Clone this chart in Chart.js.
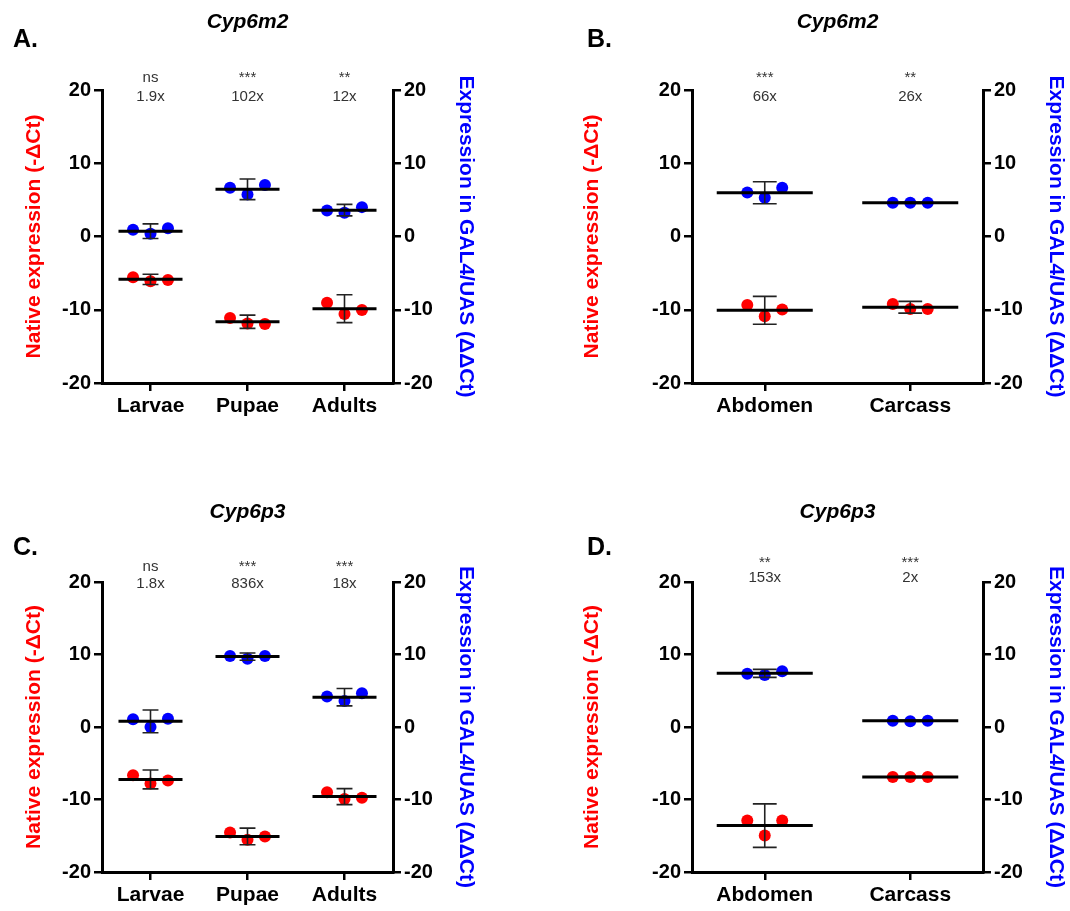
<!DOCTYPE html>
<html><head><meta charset="utf-8">
<script src="https://cdn.jsdelivr.net/npm/chart.js@4.4.0/dist/chart.umd.min.js"></script>
<style>
html,body{margin:0;padding:0;background:#fff;}
#wrap{position:relative;width:1070px;height:911px;overflow:hidden;}
canvas{position:absolute;}
</style></head><body>
<div id="wrap">
<canvas id="cA" width="535" height="455" style="left:0;top:0"></canvas>
<canvas id="cB" width="535" height="455" style="left:535px;top:0"></canvas>
<canvas id="cC" width="535" height="456" style="left:0;top:455px"></canvas>
<canvas id="cD" width="535" height="456" style="left:535px;top:455px"></canvas>
</div>
<script>
// ---------- categories ----------
const stageCategories = ['Larvae', 'Pupae', 'Adults'];
const tissueCategories = ['Abdomen', 'Carcass'];

// ---------- Panel A: Cyp6m2, life stages ----------
const aNative = [[-5.57, -6.12, -5.93], [-11.14, -11.88, -11.96], [-9.04, -10.59, -10.04]];
const aNativeMean = [-5.85, -11.64, -9.86];
const aNativeSd = [0.7, 0.9, 1.9];
const aGal4 = [[0.92, 0.37, 1.14], [6.67, 5.75, 7.03], [3.56, 3.25, 4.01]];
const aGal4Mean = [0.73, 6.44, 3.6];
const aGal4Sd = [1.0, 1.4, 0.78];
const aSig = ['ns', '***', '**'];
const aFold = ['1.9x', '102x', '12x'];

// ---------- Panel B: Cyp6m2, tissues ----------
const bNative = [[-9.35, -10.9, -9.97], [-9.2, -9.9, -9.9]];
const bNativeMean = [-10.07, -9.66];
const bNativeSd = [1.9, 0.8];
const bGal4 = [[6.0, 5.3, 6.64], [4.6, 4.6, 4.6]];
const bGal4Mean = [5.98, 4.6];
const bGal4Sd = [1.5, 0.1];
const bSig = ['***', '**'];
const bFold = ['66x', '26x'];

// ---------- Panel C: Cyp6p3, life stages ----------
const cNative = [[-6.64, -7.78, -7.37], [-14.56, -15.56, -15.1], [-9.0, -9.93, -9.75]];
const cNativeMean = [-7.23, -15.1, -9.6];
const cNativeSd = [1.3, 1.15, 1.1];
const cGal4 = [[1.06, 0.0, 1.15], [9.8, 9.4, 9.8], [4.2, 3.57, 4.67]];
const cGal4Mean = [0.78, 9.71, 4.12];
const cGal4Sd = [1.57, 0.5, 1.2];
const cSig = ['ns', '***', '***'];
const cFold = ['1.8x', '836x', '18x'];

// ---------- Panel D: Cyp6p3, tissues ----------
const dNative = [[-12.9, -14.96, -12.9], [-6.9, -6.9, -6.9]];
const dNativeMean = [-13.6, -6.9];
const dNativeSd = [3.0, 0.1];
const dGal4 = [[7.35, 7.17, 7.7], [0.86, 0.8, 0.86]];
const dGal4Mean = [7.4, 0.86];
const dGal4Sd = [0.55, 0.1];
const dSig = ['**', '***'];
const dFold = ['153x', '2x'];

// ---------- shared ----------
const yTickValues = [-20, -10, 0, 10, 20];
const leftTitle = 'Native expression (-\u0394Ct)';
const rightTitle = 'Expression in GAL4/UAS (\u0394\u0394Ct)';
const F = "'Liberation Sans', Arial, Helvetica, sans-serif";
const RED = '#ff0000', BLUE = '#0000ff';

function points(groups, jit) {
  const out = [];
  groups.forEach((g, i) => g.forEach((v, j) => out.push({ x: i + (j - 1) * jit, y: v })));
  return out;
}

function overlay(P, L) {
  return {
    id: 'overlay' + P.letter,
    afterDatasetsDraw(chart) {
      const ctx = chart.ctx, xs = chart.scales.x;
      ctx.save();
      [[P.nMean, P.nSd, 'y'], [P.gMean, P.gSd, 'y2']].forEach(([means, sds, axis]) => {
        const ys = chart.scales[axis];
        means.forEach((m, i) => {
          const xc = xs.getPixelForValue(i);
          const cw = xs.getPixelForValue(i + 0.082) - xc;
          const yt = ys.getPixelForValue(m + sds[i]);
          const yb = ys.getPixelForValue(m - sds[i]);
          ctx.strokeStyle = '#222';
          ctx.lineWidth = 1.6;
          ctx.beginPath();
          ctx.moveTo(xc, yt); ctx.lineTo(xc, yb);
          ctx.moveTo(xc - cw, yt); ctx.lineTo(xc + cw, yt);
          ctx.moveTo(xc - cw, yb); ctx.lineTo(xc + cw, yb);
          ctx.stroke();
          const ym = ys.getPixelForValue(m);
          ctx.strokeStyle = '#000';
          ctx.lineWidth = 3;
          ctx.beginPath();
          ctx.moveTo(xs.getPixelForValue(i - 0.33), ym);
          ctx.lineTo(xs.getPixelForValue(i + 0.33), ym);
          ctx.stroke();
        });
      });
      ctx.restore();
    },
    afterDraw(chart) {
      const ctx = chart.ctx, xs = chart.scales.x, ca = chart.chartArea;
      const midY = (ca.top + ca.bottom) / 2;
      ctx.save();
      ctx.textBaseline = 'middle';
      ctx.fillStyle = '#000';
      ctx.textAlign = 'center';
      ctx.font = 'italic bold 21px ' + F;
      ctx.fillText(P.title, (ca.left + ca.right) / 2, L.titleY);
      ctx.textAlign = 'left';
      ctx.font = 'bold 25px ' + F;
      ctx.fillText(P.letter + '.', L.letterX, L.letterY);
      // axis titles
      ctx.textAlign = 'center';
      ctx.font = 'bold 21px ' + F;
      ctx.save();
      ctx.translate(L.leftTitleX, midY);
      ctx.rotate(-Math.PI / 2);
      ctx.fillStyle = RED;
      ctx.fillText(leftTitle, 0, 0);
      ctx.restore();
      ctx.save();
      ctx.translate(L.rightTitleX, midY);
      ctx.rotate(Math.PI / 2);
      ctx.fillStyle = BLUE;
      ctx.fillText(rightTitle, 0, 0);
      ctx.restore();
      // annotations
      ctx.fillStyle = '#333';
      ctx.font = '15px ' + F;
      P.sig.forEach((s, i) => {
        const xc = xs.getPixelForValue(i);
        ctx.fillText(s, xc, L.sigY);
        ctx.fillText(P.fold[i], xc, L.foldY);
      });
      ctx.restore();
    }
  };
}

function yAxis(pos, width) {
  return {
    type: 'linear', position: pos, min: -20, max: 20,
    afterBuildTicks: s => { s.ticks = yTickValues.map(v => ({ value: v })); },
    ticks: { color: '#000', padding: 3, font: { family: F, size: 20, weight: 'bold' } },
    grid: { drawOnChartArea: false, drawTicks: true, tickLength: 8, color: '#000', lineWidth: 2.5 },
    border: { display: true, color: '#000', width: 3 },
    title: { display: false },
    afterFit: s => { s.width = width; }
  };
}

function makeChart(id, P, L) {
  const cats = P.cats;
  new Chart(document.getElementById(id), {
    type: 'scatter',
    data: {
      datasets: [
        { label: 'Native', data: points(P.native, L.jit), yAxisID: 'y',
          backgroundColor: RED, borderColor: RED, pointRadius: 6, pointHoverRadius: 6, borderWidth: 0 },
        { label: 'GAL4/UAS', data: points(P.gal4, L.jit), yAxisID: 'y2',
          backgroundColor: BLUE, borderColor: BLUE, pointRadius: 6, pointHoverRadius: 6, borderWidth: 0 }
      ]
    },
    options: {
      responsive: false, animation: false, events: [],
      layout: { padding: L.pad },
      plugins: { legend: { display: false }, tooltip: { enabled: false } },
      scales: {
        x: {
          type: 'linear', min: -0.5, max: cats.length - 0.5,
          afterBuildTicks: s => { s.ticks = cats.map((c, i) => ({ value: i })); },
          ticks: { color: '#000', padding: 3, autoSkip: false, maxRotation: 0,
                   font: { family: F, size: 21, weight: 'bold' },
                   callback: v => cats[v] },
          grid: { drawOnChartArea: false, drawTicks: true, tickLength: 8, color: '#000', lineWidth: 2.5 },
          border: { display: true, color: '#000', width: 3 },
          afterFit: s => { s.height = L.xh; }
        },
        y: yAxis('left', L.w1),
        y2: yAxis('right', L.w2)
      }
    },
    plugins: [overlay(P, L)]
  });
}

makeChart('cA',
  { letter: 'A', title: 'Cyp6m2', cats: stageCategories, native: aNative, nMean: aNativeMean, nSd: aNativeSd,
    gal4: aGal4, gMean: aGal4Mean, gSd: aGal4Sd, sig: aSig, fold: aFold },
  { pad: { left: 21, top: 90, right: 56, bottom: 32 }, w1: 81, w2: 86, xh: 40, jit: 0.18,
    titleY: 22, letterX: 13, letterY: 40, sigY: 78, foldY: 97, leftTitleX: 34, rightTitleX: 466 });

makeChart('cB',
  { letter: 'B', title: 'Cyp6m2', cats: tissueCategories, native: bNative, nMean: bNativeMean, nSd: bNativeSd,
    gal4: bGal4, gMean: bGal4Mean, gSd: bGal4Sd, sig: bSig, fold: bFold },
  { pad: { left: 44, top: 90, right: 1, bottom: 32 }, w1: 113, w2: 86, xh: 40, jit: 0.12,
    titleY: 22, letterX: 52, letterY: 40, sigY: 78, foldY: 97, leftTitleX: 57, rightTitleX: 521 });

makeChart('cC',
  { letter: 'C', title: 'Cyp6p3', cats: stageCategories, native: cNative, nMean: cNativeMean, nSd: cNativeSd,
    gal4: cGal4, gMean: cGal4Mean, gSd: cGal4Sd, sig: cSig, fold: cFold },
  { pad: { left: 21, top: 127, right: 56, bottom: 2 }, w1: 81, w2: 86, xh: 37, jit: 0.18,
    titleY: 57, letterX: 13, letterY: 93, sigY: 112, foldY: 129, leftTitleX: 34, rightTitleX: 466 });

makeChart('cD',
  { letter: 'D', title: 'Cyp6p3', cats: tissueCategories, native: dNative, nMean: dNativeMean, nSd: dNativeSd,
    gal4: dGal4, gMean: dGal4Mean, gSd: dGal4Sd, sig: dSig, fold: dFold },
  { pad: { left: 44, top: 127, right: 1, bottom: 2 }, w1: 113, w2: 86, xh: 37, jit: 0.12,
    titleY: 57, letterX: 52, letterY: 93, sigY: 108, foldY: 123, leftTitleX: 57, rightTitleX: 521 });
</script>
</body></html>
